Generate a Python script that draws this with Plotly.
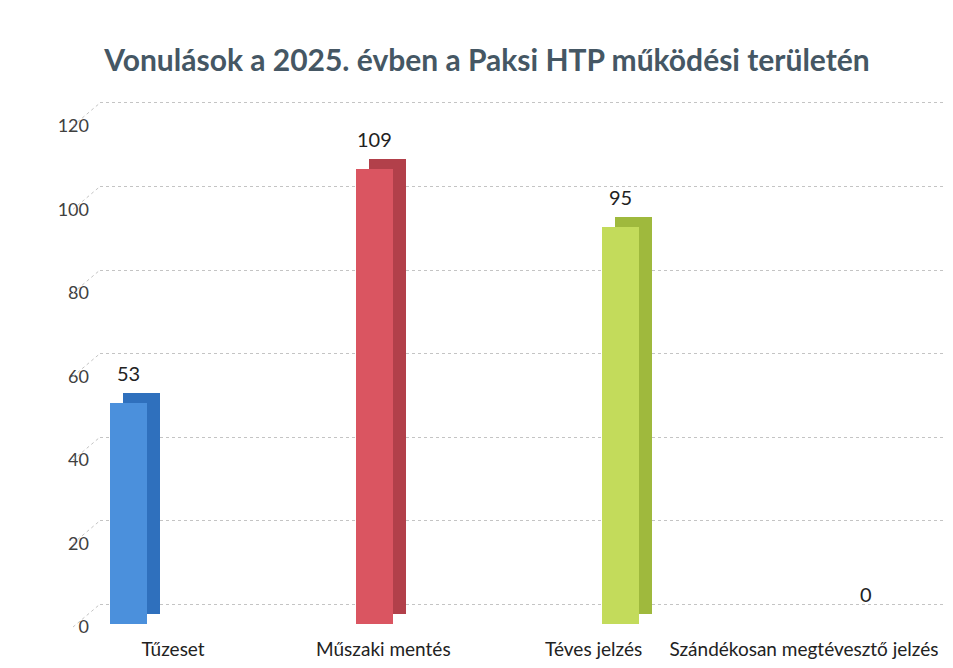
import plotly.graph_objects as go

# ---- data ----
categories = ["Tűzeset", "Műszaki mentés", "Téves jelzés", "Szándékosan megtévesztő jelzés"]
values = [53, 109, 95, 0]
y_ticks = [0, 20, 40, 60, 80, 100, 120]

# ---- style ----
front_colors = ["#4b90dc", "#da5561", "#c3db5b", "#9bb8de"]
side_colors = ["#2f70bd", "#b2404a", "#9fb93d", "#7f9fc8"]
font_fam = "Lato, 'Open Sans', sans-serif"
text_col = "#404040"

# page offset (default body margin of the html page)
off = 8
W, H = 953, 668

# pixel geometry (reference coordinates)
plot_l, plot_r, plot_t, plot_b = 100, 945, 90, 636
front0 = 627
k = (front0 - 123) / 120.0        # px per unit (y), front plane
y0 = -(plot_b - front0) / k
y1 = (front0 - plot_t) / k
back_shift = 20 / k                # back wall offset in units
# tick-label scale (labels sit slightly lower than front plane)
kl = 4.2
lab0 = 630
yl_rng = [(lab0 - plot_b) / kl, (lab0 - plot_t) / kl]
bar_px = 246.0
x_rng = [-(128 - plot_l) / bar_px, 3 + (plot_r - 866) / bar_px]
lab_px = (804 - 173) / 3.0
x2_rng = [-(173 - plot_l) / lab_px, 3 + (plot_r - 804) / lab_px]
bar_w = 37 / bar_px
dx = 13 / bar_px
dy = 10 / k

idx = list(range(len(categories)))

fig = go.Figure()

# depth (side/top) faces
fig.add_trace(go.Bar(
    x=[i + dx for i in idx], y=values, base=[dy] * len(values),
    width=bar_w, marker=dict(color=side_colors, line=dict(width=0)),
    hoverinfo="skip", showlegend=False))
# front faces
fig.add_trace(go.Bar(
    x=idx, y=values, width=bar_w,
    marker=dict(color=front_colors, line=dict(width=0)),
    hovertext=categories, showlegend=False))
# dummy traces for back-wall gridlines / category labels / tick labels axes
fig.add_trace(go.Scatter(
    x=idx, y=[0] * len(idx), xaxis="x2", yaxis="y2", mode="markers",
    marker=dict(opacity=0), hoverinfo="skip", showlegend=False))
fig.add_trace(go.Scatter(
    x=idx, y=[0] * len(idx), xaxis="x2", yaxis="y3", mode="markers",
    marker=dict(opacity=0), hoverinfo="skip", showlegend=False))

# data labels
for i, v in zip(idx, values):
    fig.add_annotation(x=i, y=v, text=str(v), showarrow=False, yshift=30,
                       font=dict(family=font_fam, size=20, color="#222222"))

# diagonal connectors from tick labels to back wall
for v in y_ticks:
    lab_v = (front0 - (lab0 - kl * v)) / k
    fig.add_shape(type="line", xref="paper", yref="y",
                  x0=-27 / (plot_r - plot_l), x1=0, y0=lab_v, y1=v + back_shift,
                  line=dict(color="#c4c4c4", width=1, dash="dot"))

fig.update_layout(
    width=W - off, height=H - off,
    margin=dict(l=plot_l - off, r=W - plot_r, t=plot_t - off, b=H - plot_b),
    paper_bgcolor="white", plot_bgcolor="rgba(0,0,0,0)",
    barmode="overlay", bargap=0,
    title=dict(text="<b>Vonulások a 2025. évben a Paksi HTP működési területén</b>",
               x=(487 - off) / (W - off), xref="container", xanchor="center",
               y=1 - (60 - off) / (H - off), yref="container", yanchor="middle",
               font=dict(family=font_fam, size=30, color="#455764")),
    xaxis=dict(range=x_rng, showticklabels=False, showgrid=False, zeroline=False,
               showline=False, fixedrange=True),
    xaxis2=dict(range=x2_rng, overlaying="x", side="bottom", tickmode="array",
                tickvals=idx, ticktext=categories, showgrid=False, zeroline=False,
                showline=False, ticks="", ticklabelstandoff=3,
                tickfont=dict(family=font_fam, size=19, color="#222222")),
    yaxis=dict(range=[y0, y1], showticklabels=False,
               showgrid=False, zeroline=False, showline=False, ticks=""),
    yaxis2=dict(range=[y0 - back_shift, y1 - back_shift], overlaying="y",
                tickmode="array", tickvals=y_ticks, showticklabels=False,
                showgrid=True, gridcolor="#c4c4c4", griddash="dot", gridwidth=1,
                zeroline=False, showline=False),
    yaxis3=dict(range=yl_rng, overlaying="y", side="left", tickmode="array",
                tickvals=y_ticks, showgrid=False, zeroline=False, showline=False,
                ticks="", ticklabelstandoff=10,
                tickfont=dict(family=font_fam, size=18, color=text_col)),
    font=dict(family=font_fam),
)

fig.write_html("out.html")
